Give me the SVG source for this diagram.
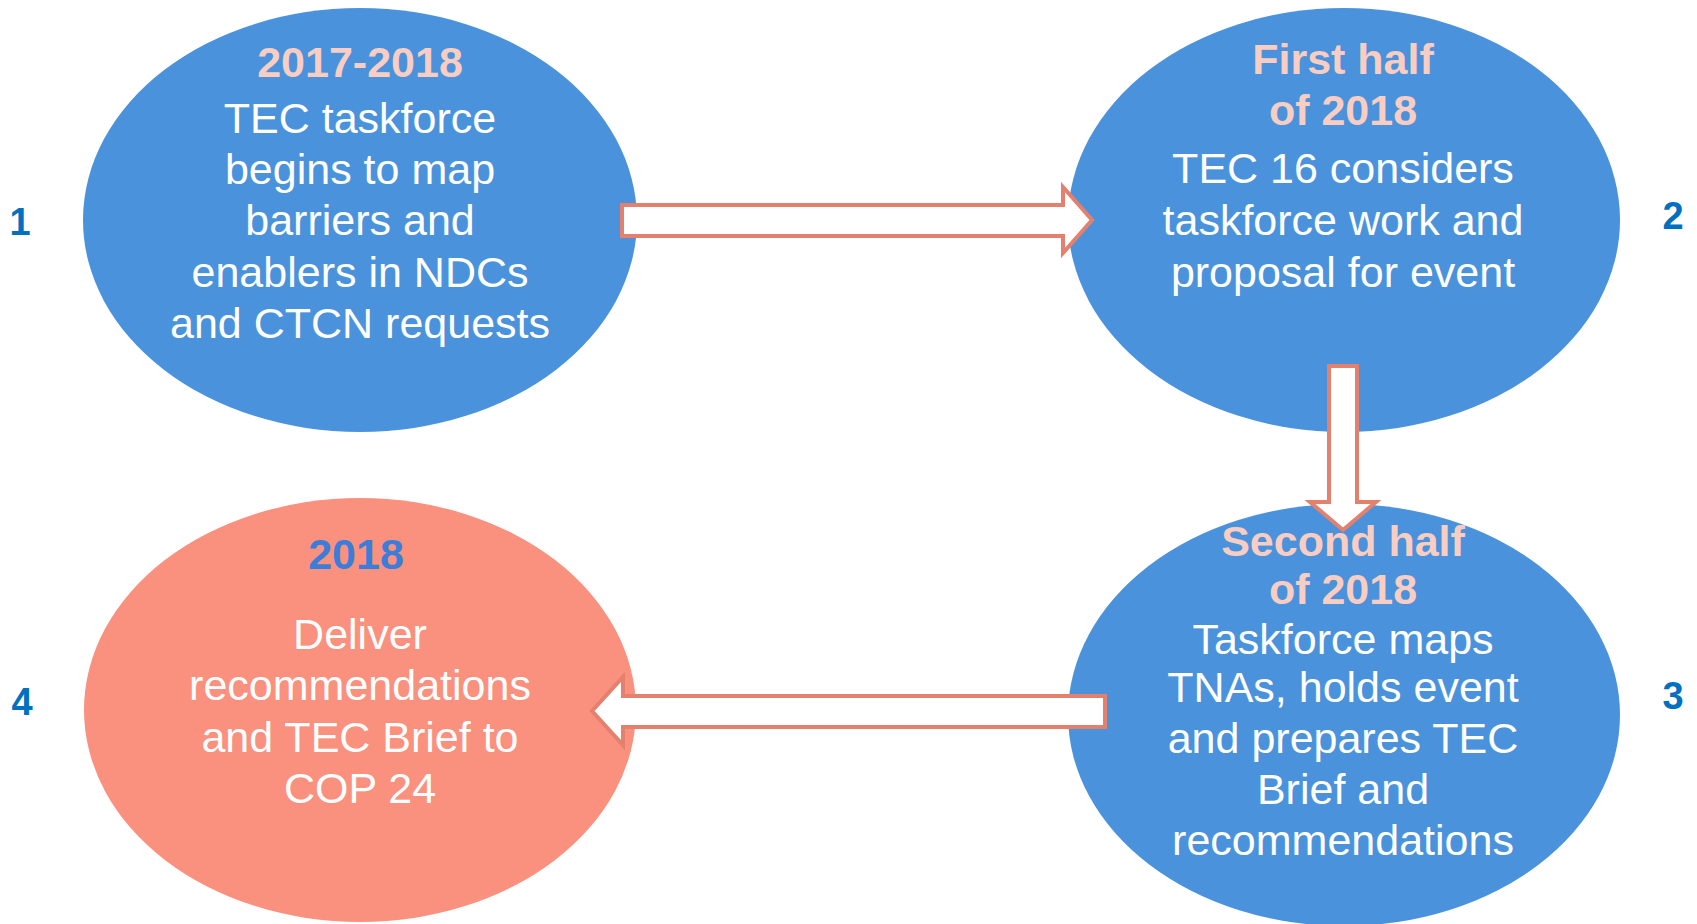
<svg xmlns="http://www.w3.org/2000/svg" width="1697" height="924" viewBox="0 0 1697 924">
<style>
.blue{fill:#4A93DC}
.salmon{fill:#F9917E}
text{font-family:"Liberation Sans",Arial,sans-serif;text-anchor:middle}
.title{font-size:43px;font-weight:bold;fill:#F9CDC1}
.body{font-size:43px;fill:#FFFFFF}
.num{font-size:38px;font-weight:bold;fill:#0070C0}
.arrow{fill:#FFFFFF;stroke:#E3806E;stroke-width:4;stroke-linejoin:miter}
</style>
<rect width="1697" height="924" fill="#FFFFFF"/>
<g id="node1">
<ellipse class="blue" cx="360" cy="220" rx="277" ry="212"/>
<text class="title" x="360" y="77">2017-2018</text>
<text class="body" x="360" y="133">TEC taskforce</text>
<text class="body" x="360" y="184">begins to map</text>
<text class="body" x="360" y="235">barriers and</text>
<text class="body" x="360" y="287">enablers in NDCs</text>
<text class="body" x="360" y="338">and CTCN requests</text>
<text class="num" x="20" y="235">1</text>
</g>
<g id="node2">
<ellipse class="blue" cx="1344" cy="220" rx="276" ry="212"/>
<text class="title" x="1343" y="74">First half</text>
<text class="title" x="1343" y="125">of 2018</text>
<text class="body" x="1343" y="183">TEC 16 considers</text>
<text class="body" x="1343" y="235">taskforce work and</text>
<text class="body" x="1343" y="287">proposal for event</text>
<text class="num" x="1673" y="229">2</text>
</g>
<g id="node3">
<ellipse class="blue" cx="1344" cy="715" rx="276" ry="211"/>
<text class="title" x="1343" y="556">Second half</text>
<text class="title" x="1343" y="604">of 2018</text>
<text class="body" x="1343" y="654">Taskforce maps</text>
<text class="body" x="1343" y="702">TNAs, holds event</text>
<text class="body" x="1343" y="753">and prepares TEC</text>
<text class="body" x="1343" y="804">Brief and</text>
<text class="body" x="1343" y="855">recommendations</text>
<text class="num" x="1673" y="709">3</text>
</g>
<g id="node4">
<ellipse class="salmon" cx="360" cy="710" rx="276" ry="212"/>
<text class="title" x="356" y="569" style="fill:#3B7DD8">2018</text>
<text class="body" x="360" y="649">Deliver</text>
<text class="body" x="360" y="700">recommendations</text>
<text class="body" x="360" y="752">and TEC Brief to</text>
<text class="body" x="360" y="803">COP 24</text>
<text class="num" x="22" y="715">4</text>
</g>
<g id="connectors">
<path class="arrow" d="M622,205 L1063,205 L1063,187 L1092,220 L1063,253 L1063,236 L622,236 Z"/>
<path class="arrow" d="M1329,366 L1357,366 L1357,502 L1376,502 L1343,530 L1310,502 L1329,502 Z"/>
<path class="arrow" d="M1105,696 L623,696 L623,677 L592,711 L623,745 L623,727 L1105,727 Z"/>
</g>
</svg>
